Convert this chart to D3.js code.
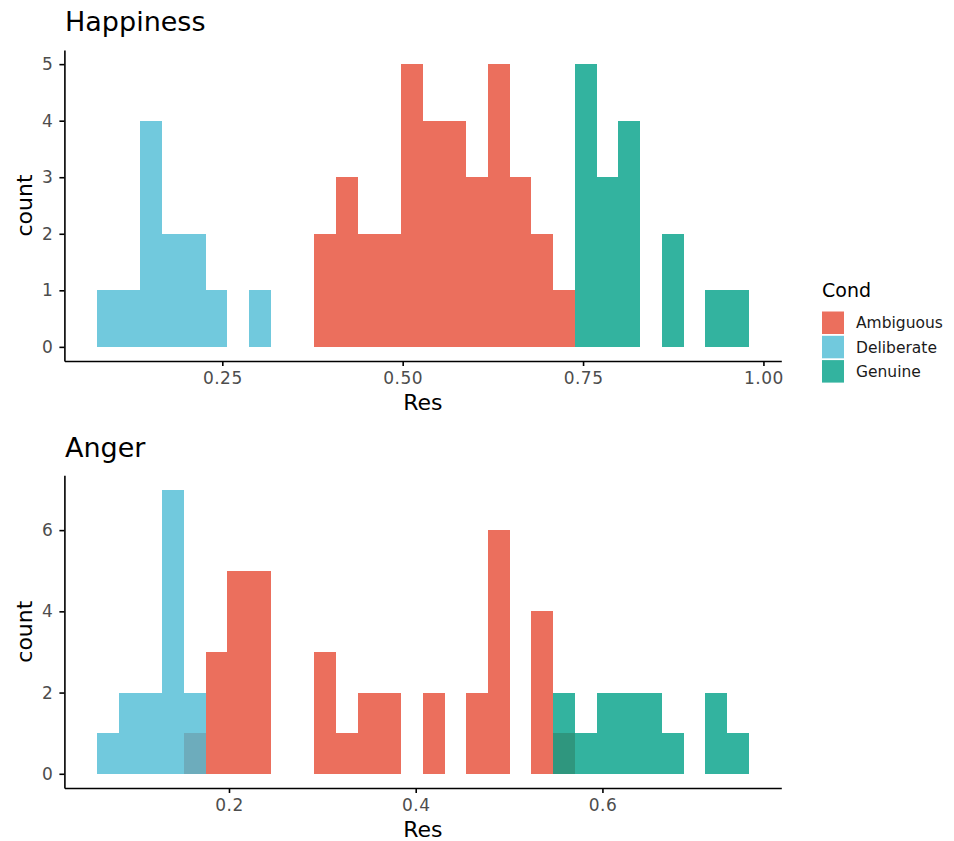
<!DOCTYPE html>
<html>
<head>
<meta charset="utf-8">
<script src="https://cdn.jsdelivr.net/npm/d3@7"></script>
<style>
  body { margin: 0; background: #fff; }
  svg { display: block; font-family: "DejaVu Sans", sans-serif; }
  .axis path, .axis line { stroke: #000; stroke-width: 1.6px; }
  .axis text { fill: #4d4d4d; font-size: 17px; letter-spacing: 0.5px; font-family: "DejaVu Sans", sans-serif; }
</style>
</head>
<body>
<script>
// categories and colours (alpha applied when drawing)
var categories = ["Ambiguous", "Deliberate", "Genuine"];
var catColors = ["#E64B35", "#4DBBD5", "#00A087"];

// Happiness: 30 bins, left edge + width, counts per bin
var happyBinStart = 0.0763;
var happyBinWidth = 0.03011;
var happyAmbiguous  = [0,0,0,0,0,0,0,0,0,0, 2,3,2,2,5,4,4,3,5,3, 2,1,0,0,0,0,0,0,0,0];
var happyDeliberate = [1,1,4,2,2,1,0,1,0,0, 0,0,0,0,0,0,0,0,0,0, 0,0,0,0,0,0,0,0,0,0];
var happyGenuine    = [0,0,0,0,0,0,0,0,0,0, 0,0,0,0,0,0,0,0,0,0, 0,0,5,3,4,0,2,0,1,1];
var happyXTicks = [0.25, 0.5, 0.75, 1.0];
var happyYTicks = [0, 1, 2, 3, 4, 5];

// Anger
var angerBinStart = 0.0586;
var angerBinWidth = 0.02327;
var angerAmbiguous  = [0,0,0,0,1,3,5,5,0,0, 3,1,2,2,0,2,0,2,6,0, 4,1,0,0,0,0,0,0,0,0];
var angerDeliberate = [1,2,2,7,2,0,0,0,0,0, 0,0,0,0,0,0,0,0,0,0, 0,0,0,0,0,0,0,0,0,0];
var angerGenuine    = [0,0,0,0,0,0,0,0,0,0, 0,0,0,0,0,0,0,0,0,0, 0,2,1,2,2,2,1,0,2,1];
var angerXTicks = [0.2, 0.4, 0.6];
var angerYTicks = [0, 2, 4, 6];

var width = 954, height = 841;

var svg = d3.select("body").append("svg")
  .attr("width", width)
  .attr("height", height);

svg.append("rect").attr("width", width).attr("height", height).attr("fill", "#fff");

function drawPanel(opts) {
  var nBins = opts.series[0].length;
  var lo = opts.binStart, hi = opts.binStart + nBins * opts.binWidth;
  var pad = (hi - lo) * 0.05;
  var maxCount = d3.max(opts.series, function(s) { return d3.max(s); });

  var x = d3.scaleLinear().domain([lo - pad, hi + pad]).range([opts.left, opts.right]);
  var y = d3.scaleLinear().domain([-maxCount * 0.05, maxCount * 1.05]).range([opts.bottom, opts.top]);

  var g = svg.append("g");

  // bars, drawn in category order so later ones sit on top
  opts.series.forEach(function(counts, ci) {
    var bins = counts.map(function(c, i) { return { i: i, c: c }; })
      .filter(function(d) { return d.c > 0; });
    g.selectAll(null)
      .data(bins)
      .enter().append("rect")
      .attr("x", function(d) { return x(lo + d.i * opts.binWidth); })
      .attr("width", function(d) { return x(lo + (d.i + 1) * opts.binWidth) - x(lo + d.i * opts.binWidth); })
      .attr("y", function(d) { return y(d.c); })
      .attr("height", function(d) { return y(0) - y(d.c); })
      .attr("fill", catColors[ci])
      .attr("fill-opacity", 0.8)
      .attr("shape-rendering", "crispEdges");
  });

  g.append("g")
    .attr("class", "axis")
    .attr("transform", "translate(0," + opts.bottom + ")")
    .call(d3.axisBottom(x).tickValues(opts.xTicks).tickFormat(d3.format(opts.xFormat))
      .tickSize(5).tickSizeOuter(0).tickPadding(6));

  g.append("g")
    .attr("class", "axis")
    .attr("transform", "translate(" + opts.left + ",0)")
    .call(d3.axisLeft(y).tickValues(opts.yTicks).tickFormat(d3.format("d"))
      .tickSize(5).tickSizeOuter(0).tickPadding(6));

  // title
  g.append("text")
    .attr("x", 65)
    .attr("y", opts.titleY)
    .style("font-size", "27px")
    .attr("fill", "#000")
    .text(opts.title);

  // axis titles
  g.append("text")
    .attr("x", (opts.left + opts.right) / 2)
    .attr("y", opts.bottom + 49)
    .attr("text-anchor", "middle")
    .style("font-size", "22px")
    .text("Res");

  g.append("text")
    .attr("transform", "translate(32," + (opts.top + opts.bottom) / 2 + ") rotate(-90)")
    .attr("text-anchor", "middle")
    .style("font-size", "22px")
    .text("count");
}

drawPanel({
  title: "Happiness", titleY: 31,
  series: [happyAmbiguous, happyDeliberate, happyGenuine],
  binStart: happyBinStart, binWidth: happyBinWidth,
  xTicks: happyXTicks, xFormat: ".2f", yTicks: happyYTicks,
  left: 64.4, right: 781.3, top: 50, bottom: 361
});

drawPanel({
  title: "Anger", titleY: 457,
  series: [angerAmbiguous, angerDeliberate, angerGenuine],
  binStart: angerBinStart, binWidth: angerBinWidth,
  xTicks: angerXTicks, xFormat: ".1f", yTicks: angerYTicks,
  left: 64.4, right: 781.3, top: 475.3, bottom: 788
});

// legend
var legend = svg.append("g").attr("transform", "translate(822,0)");
legend.append("text")
  .attr("x", 0).attr("y", 297)
  .style("font-size", "19px")
  .text("Cond");

var items = legend.selectAll(".key")
  .data(categories)
  .enter().append("g")
  .attr("class", "key")
  .attr("transform", function(d, i) { return "translate(0," + (311.5 + i * 24.3) + ")"; });

items.append("rect")
  .attr("width", 22).attr("height", 22.5)
  .attr("fill", function(d, i) { return catColors[i]; })
  .attr("fill-opacity", 0.8);

items.append("text")
  .attr("x", 34).attr("y", 11.5)
  .attr("dy", "0.35em")
  .style("font-size", "15.5px")
  .attr("fill", "#1a1a1a")
  .text(function(d) { return d; });
</script>
</body>
</html>
